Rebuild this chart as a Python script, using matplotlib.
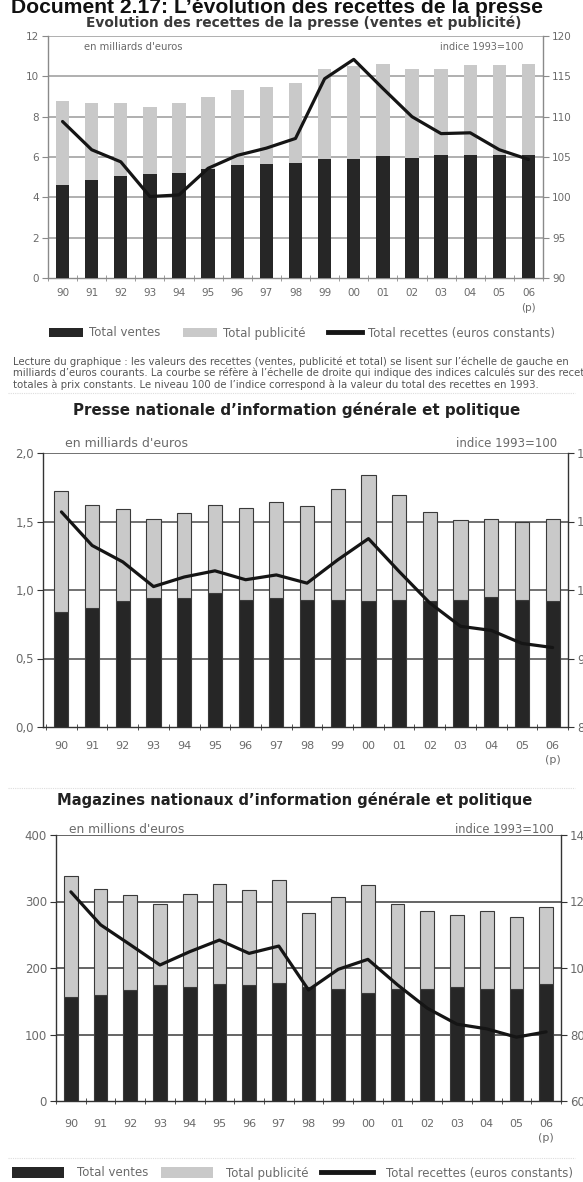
import numpy as np
import matplotlib.pyplot as plt
from matplotlib.patches import Patch
from matplotlib.lines import Line2D

plt.rcParams['font.family'] = ['DejaVu Sans']

# --- données ---
years = ['90', '91', '92', '93', '94', '95', '96', '97', '98',
         '99', '00', '01', '02', '03', '04', '05', '06\n(p)']

# ensemble de la presse (milliards d'euros / indice 1993=100)
presseVentes = [4.63, 4.84, 5.04, 5.17, 5.20, 5.40, 5.62, 5.65, 5.70,
                5.90, 5.92, 6.03, 5.95, 6.10, 6.10, 6.10, 6.10]
pressePub = [4.15, 3.84, 3.64, 3.31, 3.48, 3.58, 3.72, 3.82, 3.97,
             4.45, 4.59, 4.56, 4.43, 4.28, 4.44, 4.44, 4.49]
presseIndice = [109.4, 105.9, 104.4, 100.1, 100.3, 103.6, 105.2, 106.1, 107.3,
                114.7, 117.1, 113.5, 110.0, 107.9, 108.0, 105.9, 104.7]

# presse nationale d'information générale et politique
nationaleVentes = [0.84, 0.87, 0.92, 0.94, 0.94, 0.98, 0.93, 0.94, 0.93,
                   0.93, 0.92, 0.93, 0.92, 0.93, 0.95, 0.93, 0.92]
nationalePub = [0.88, 0.75, 0.67, 0.58, 0.62, 0.64, 0.67, 0.70, 0.68,
                0.81, 0.92, 0.76, 0.65, 0.58, 0.57, 0.57, 0.60]
nationaleIndice = [111.4, 106.5, 104.1, 100.5, 101.9, 102.8, 101.5, 102.2, 101.0,
                   104.4, 107.5, 102.7, 98.1, 94.7, 94.1, 92.2, 91.6]

# magazines nationaux (millions d'euros)
magVentes = [157, 160, 167, 174, 171, 176, 174, 178, 172,
             168, 162, 169, 168, 171, 168, 168, 176]
magPub = [182, 159, 143, 122, 141, 151, 144, 154, 110,
          139, 163, 127, 117, 109, 118, 108, 115]
magIndice = [122.9, 113.0, 107.0, 100.9, 104.9, 108.4, 104.4, 106.6, 93.4,
             99.6, 102.6, 94.9, 87.9, 83.1, 81.7, 79.2, 80.8]

darkCol = '#262626'
lightCol = '#c9c9c9'
txtCol = '#6a6a6a'

fig = plt.figure(figsize=(5.83, 11.82), dpi=100)
W, H = 583.0, 1182.0


def axRect(x0, x1, yTop, yBot):
    return [x0 / W, 1 - yBot / H, (x1 - x0) / W, (yBot - yTop) / H]


def drawPanel(rect, xlim, ventes, pub, indice, yl, yt, ytl, yr, yrt, yrtl,
              gridCol, spineCol, edge, fs, xfs, xpad, leftUnit, rightUnit, ufs, lsp):
    ax = fig.add_axes(rect)
    x = np.arange(len(years))
    ax.bar(x, ventes, width=0.46, color=darkCol, edgecolor=edge, linewidth=0.8, zorder=3)
    ax.bar(x, pub, width=0.46, bottom=ventes, color=lightCol, edgecolor=edge,
           linewidth=0.8, zorder=3)
    ax.set_xlim(*xlim)
    ax.set_ylim(*yl)
    ax.set_yticks(yt)
    ax.set_yticklabels(ytl)
    for v in yt[1:]:
        ax.axhline(v, color=gridCol, lw=1.1, zorder=1)
    ax.set_xticks(x)
    ax.set_xticklabels(years, linespacing=lsp)
    ax.set_xticks(np.arange(-0.5, len(years), 1.0), minor=True)
    ax.tick_params(axis='x', which='major', length=0, pad=xpad, labelsize=xfs, labelcolor=txtCol)
    ax.tick_params(axis='x', which='minor', length=5, direction='inout', color=spineCol)
    ax.tick_params(axis='y', length=4, pad=2.5, labelsize=fs, labelcolor=txtCol, color=spineCol)
    for s in ['top', 'right']:
        ax.spines[s].set_visible(False)
    for s in ['left', 'bottom']:
        ax.spines[s].set_color(spineCol)
        ax.spines[s].set_linewidth(1.0)

    axr = ax.twinx()
    axr.plot(x, indice, color='#151515', lw=2.3, zorder=5, solid_capstyle='round',
             solid_joinstyle='round')
    axr.set_ylim(*yr)
    axr.set_yticks(yrt)
    axr.set_yticklabels(yrtl)
    axr.tick_params(axis='y', length=4, pad=2.5, labelsize=fs, labelcolor=txtCol, color=spineCol)
    for s in ['top', 'left', 'bottom']:
        axr.spines[s].set_visible(False)
    axr.spines['right'].set_color(spineCol)
    axr.spines['right'].set_linewidth(1.0)

    uL = ax.text(0, 0, leftUnit, transform=ax.transAxes, fontsize=ufs[0],
                 color=txtCol, va='center', ha='left')
    uR = ax.text(0, 0, rightUnit, transform=ax.transAxes, fontsize=ufs[1],
                 color=txtCol, va='center', ha='right')
    return ax, axr, uL, uR


# --- panneau 1 ---
ax1, ax1r, u1l, u1r = drawPanel(axRect(48, 543, 36, 278), (-0.5, 16.5),
                                presseVentes, pressePub, presseIndice,
                                (0, 12), [0, 2, 4, 6, 8, 10, 12],
                                ['0', '2', '4', '6', '8', '10', '12'],
                                (90, 120), [90, 95, 100, 105, 110, 115, 120],
                                ['90', '95', '100', '105', '110', '115', '120'],
                                '#9a9a9a', '#8a8a8a', 'none', 7.5, 7.5, 7,
                                'en milliards d\'euros', 'indice 1993=100', (7.2, 7.0), 1.6)
u1l.set_position((0.073, 0.955))
u1r.set_position((0.96, 0.955))

# --- panneau 2 ---
ax2, ax2r, u2l, u2r = drawPanel(axRect(43, 568, 453, 727), (-0.6, 16.5),
                                nationaleVentes, nationalePub, nationaleIndice,
                                (0, 2.0), [0, 0.5, 1.0, 1.5, 2.0],
                                ['0,0', '0,5', '1,0', '1,5', '2,0'],
                                (80, 120), [80, 90, 100, 110, 120],
                                ['80', '90', '100', '110', '120'],
                                '#4a4a4a', '#333333', '#3a3a3a', 8.5, 8.0, 10,
                                'en milliards d\'euros', 'indice 1993=100', (9.0, 8.5), 1.5)
u2l.set_position((0.042, 1.035))
u2r.set_position((0.98, 1.035))

# --- panneau 3 ---
ax3, ax3r, u3l, u3r = drawPanel(axRect(56, 561, 835, 1101), (-0.5, 16.5),
                                magVentes, magPub, magIndice,
                                (0, 400), [0, 100, 200, 300, 400],
                                ['0', '100', '200', '300', '400'],
                                (60, 140), [60, 80, 100, 120, 140],
                                ['60', '80', '100', '120', '140'],
                                '#3a3a3a', '#333333', '#3a3a3a', 8.5, 8.0, 13,
                                'en millions d\'euros', 'indice 1993=100', (8.8, 8.3), 1.5)
u3l.set_position((0.025, 1.02))
u3r.set_position((0.985, 1.02))

# --- titres ---
fig.text(0.475, 1 - 13 / H, 'Document 2.17: L\u2019\u00e9volution des recettes de la presse',
         ha='center', va='baseline', fontsize=15.2, fontweight='bold', color='#111111',
         family='Liberation Sans')
fig.text(304 / W, 1 - 23 / H, 'Evolution des recettes de la presse (ventes et publicit\u00e9)',
         ha='center', va='center', fontsize=9.9, fontweight='bold', color='#3a3a3a')
fig.text(297 / W, 1 - 410 / H, 'Presse nationale d\u2019information g\u00e9n\u00e9rale et politique',
         ha='center', va='center', fontsize=10.9, fontweight='bold', color='#222222')
fig.text(295 / W, 1 - 800 / H, 'Magazines nationaux d\u2019information g\u00e9n\u00e9rale et politique',
         ha='center', va='center', fontsize=10.6, fontweight='bold', color='#222222')

# --- légendes ---
handles = [Patch(facecolor=darkCol, edgecolor='none'),
           Patch(facecolor=lightCol, edgecolor='none'),
           Line2D([0], [0], color='#151515', lw=3.5)]
labels = ['Total ventes', 'Total publicit\u00e9', 'Total recettes (euros constants)']

fig.legend(handles, labels, loc='center left', bbox_to_anchor=(38 / W, 1 - 333 / H),
           ncol=3, frameon=False, fontsize=8.5, handlelength=2.9, handleheight=0.9,
           columnspacing=1.9, handletextpad=0.5, labelcolor=txtCol)

fig.legend(handles, labels, loc='center left', bbox_to_anchor=(1 / W, 1 - 1173 / H),
           ncol=3, frameon=False, fontsize=8.5, handlelength=4.4, handleheight=1.0,
           columnspacing=1.1, handletextpad=1.1, labelcolor=txtCol)

# --- note de lecture ---
lecture = ("Lecture du graphique : les valeurs des recettes (ventes, publicit\u00e9 et total) se lisent sur "
           "l\u2019\u00e9chelle de gauche en\n"
           "milliards d\u2019euros courants. La courbe se r\u00e9f\u00e8re \u00e0 l\u2019\u00e9chelle de droite "
           "qui indique des indices calcul\u00e9s sur des recettes\n"
           "totales \u00e0 prix constants. Le niveau 100 de l\u2019indice correspond \u00e0 la valeur du total "
           "des recettes en 1993.")
fig.text(13 / W, 1 - 373 / H, lecture, ha='left', va='center', fontsize=7.3,
         color='#555555', linespacing=1.1)

# fins séparateurs
for yy in [393, 788, 1158]:
    fig.add_artist(Line2D([8 / W, 575 / W], [1 - yy / H, 1 - yy / H], color='#dddddd',
                          lw=0.8, ls=(0, (1, 1))))

fig.savefig('out.png', dpi=100)
